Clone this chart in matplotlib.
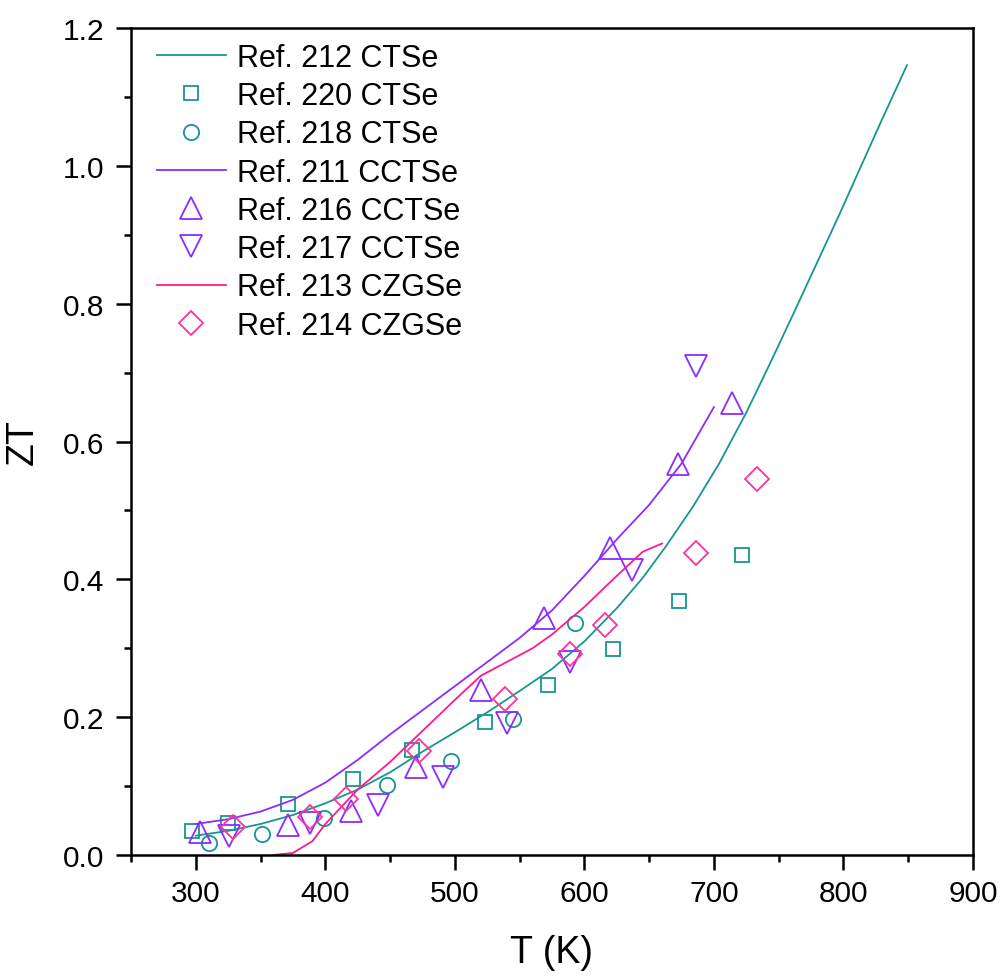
import matplotlib
matplotlib.use("Agg")
import matplotlib.pyplot as plt
from matplotlib.ticker import MultipleLocator

plt.rcParams['font.family'] = ['Liberation Sans', 'DejaVu Sans']

# Ref. 212 CTSe (line)
t212 = [300, 325, 350, 375, 400, 425, 450, 475, 500, 525, 550, 575, 600, 625,
        645, 663, 684, 704, 725, 743, 761, 779, 797, 812, 828, 849]
zt212 = [0.028, 0.035, 0.045, 0.058, 0.075, 0.095, 0.12, 0.15, 0.178, 0.207,
         0.238, 0.27, 0.31, 0.358, 0.402, 0.448, 0.506, 0.568, 0.642, 0.712,
         0.784, 0.857, 0.930, 0.993, 1.060, 1.146]
# Ref. 220 CTSe (squares)
t220 = [297, 325, 371, 421, 467, 523, 572, 622, 673, 722]
zt220 = [0.035, 0.047, 0.074, 0.110, 0.152, 0.193, 0.247, 0.299, 0.368, 0.436]
# Ref. 218 CTSe (circles)
t218 = [310, 351, 399, 448, 497, 545, 593]
zt218 = [0.018, 0.030, 0.053, 0.102, 0.137, 0.198, 0.337]
# Ref. 211 CCTSe (line)
t211 = [300, 325, 350, 375, 400, 425, 450, 475, 500, 525, 550, 575, 600, 625,
        650, 675, 700]
zt211 = [0.045, 0.052, 0.063, 0.08, 0.105, 0.138, 0.175, 0.21, 0.245, 0.28,
         0.315, 0.355, 0.405, 0.458, 0.508, 0.568, 0.65]
# Ref. 216 CCTSe (up triangles)
t216 = [303, 371, 420, 470, 520, 569, 620, 672, 714]
zt216 = [0.033, 0.043, 0.064, 0.127, 0.240, 0.344, 0.446, 0.567, 0.656]
# Ref. 217 CCTSe (down triangles)
t217 = [326, 388, 441, 491, 540, 589, 637, 686]
zt217 = [0.028, 0.047, 0.072, 0.113, 0.192, 0.280, 0.413, 0.710]
# Ref. 213 CZGSe (line)
t213 = [360, 375, 390, 400, 425, 450, 475, 500, 520, 540, 560, 575, 600, 625,
        645, 660]
zt213 = [0.0, 0.003, 0.02, 0.045, 0.095, 0.135, 0.18, 0.225, 0.26, 0.28,
         0.30, 0.32, 0.36, 0.405, 0.44, 0.452]
# Ref. 214 CZGSe (diamonds)
t214 = [329, 388, 416, 472, 539, 589, 616, 686, 733]
zt214 = [0.040, 0.055, 0.081, 0.151, 0.226, 0.292, 0.334, 0.438, 0.546]

xticks = [300, 400, 500, 600, 700, 800, 900]
yticks = [0.0, 0.2, 0.4, 0.6, 0.8, 1.0, 1.2]
yticklabels = ['0.0', '0.2', '0.4', '0.6', '0.8', '1.0', '1.2']

teal = '#17968f'
purple = '#8c2bff'
pink = '#ff1a8c'
pink_m = '#ff3399'

fig = plt.figure(figsize=(10.02, 9.78), dpi=100)
ax = fig.add_axes([131/1002, 122/978, 842/1002, 827/978])

lw = 1.3
mew = 1.3
ax.plot(t212, zt212, '-', color=teal, lw=lw, label='Ref. 212 CTSe')
ax.plot(t220, zt220, 's', ls='none', mfc='none', mec=teal, ms=10.5, mew=mew,
        label='Ref. 220 CTSe')
ax.plot(t218, zt218, 'o', ls='none', mfc='none', mec=teal, ms=11, mew=mew,
        label='Ref. 218 CTSe')
ax.plot(t211, zt211, '-', color=purple, lw=lw, label='Ref. 211 CCTSe')
ax.plot(t216, zt216, '^', ls='none', mfc='none', mec=purple, ms=16, mew=mew,
        label='Ref. 216 CCTSe')
ax.plot(t217, zt217, 'v', ls='none', mfc='none', mec=purple, ms=16, mew=mew,
        label='Ref. 217 CCTSe')
ax.plot(t213, zt213, '-', color=pink, lw=lw, label='Ref. 213 CZGSe')
ax.plot(t214, zt214, 'D', ls='none', mfc='none', mec=pink_m, ms=12.5, mew=mew,
        label='Ref. 214 CZGSe')

ax.set_xlim(250, 900)
ax.set_ylim(0, 1.2)
ax.set_xticks(xticks)
ax.set_yticks(yticks)
ax.set_yticklabels(yticklabels)
ax.xaxis.set_minor_locator(MultipleLocator(50))
ax.yaxis.set_minor_locator(MultipleLocator(0.1))

for s in ax.spines.values():
    s.set_linewidth(1.8)
ax.tick_params(which='major', direction='out', length=11, width=1.8,
               labelsize=21.5, pad=6)
ax.tick_params(which='minor', direction='out', length=5, width=1.8)
ax.tick_params(axis='y', which='major', pad=8)

ax.set_xlabel('T (K)', fontsize=27, labelpad=20)
ax.set_ylabel('ZT', fontsize=27, labelpad=16)

leg = ax.legend(loc='upper left', bbox_to_anchor=(0.031, 0.982), frameon=False,
                fontsize=22, handlelength=2.25, handletextpad=0.35,
                labelspacing=0.27, borderpad=0, borderaxespad=0)

fig.savefig('out.png', dpi=100)
